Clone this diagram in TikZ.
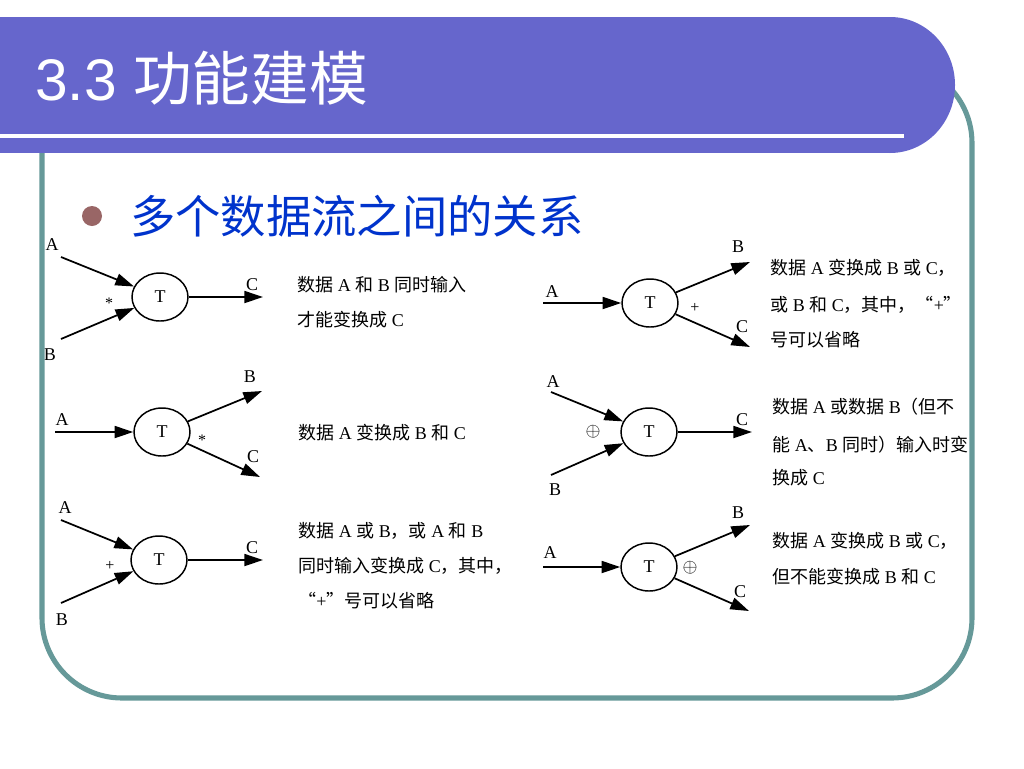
\documentclass[tikz,border=0pt]{standalone}
\usepackage{fontspec}
\setmainfont{Liberation Serif}
\newfontfamily\cjk{Noto Sans CJK SC}
\newfontfamily\titlefont{Liberation Sans}
\usetikzlibrary{arrows.meta,shapes.geometric}
\definecolor{bandpurple}{RGB}{102,102,204}
\definecolor{frameteal}{RGB}{102,153,153}
\definecolor{subblue}{RGB}{0,51,204}
\definecolor{bulletbrown}{RGB}{153,102,102}
\newcommand{\zh}[1]{{\cjk #1}}
\begin{document}
\begin{tikzpicture}[x=0.75pt,y=-0.75pt,
  proc/.style={ellipse, draw, line width=1.1pt, minimum width=42pt, minimum height=36pt, inner sep=0pt, font=\fontsize{13.5}{16}\selectfont},
  flow/.style={line width=1.3pt, -{Triangle[length=14pt,width=9pt]}},
  lbl/.style={inner sep=0pt, font=\fontsize{13.5}{16}\selectfont},
  sym/.style={inner sep=0pt, font=\fontsize{12}{14}\selectfont},
  osym/.style={inner sep=0pt, font=\fontsize{14}{16}\selectfont},
  txt/.style={inner sep=0pt, anchor=west, font=\fontsize{13.5}{16}\selectfont},
]
\useasboundingbox (0,0) rectangle (1024,768);
\fill[white] (0,0) rectangle (1024,768);

% ---------- Diagram 1 ----------
\node[proc] (T1) at (160,297) {T};
\coordinate (a1) at (61,257);
\coordinate (b1) at (61,339);
\coordinate (c1) at (263,297);
\draw[flow] (a1) -- (T1);
\draw[flow] (b1) -- (T1);
\draw[flow] (T1) -- (c1);
\node[lbl] (la1) at (52,245) {A};
\node[lbl] (lb1) at (50,355) {B};
\node[lbl] (lc1) at (252,285) {C};
\node[sym] (s1) at (109,303) {*};
\node[txt] (t1a) at (297,285) {\zh{数据} A \zh{和} B \zh{同时输入}};
\node[txt] (t1b) at (297,320) {\zh{才能变换成} C};

% ---------- Diagram 2 ----------
\node[proc] (T2) at (650,303) {T};
\coordinate (a2) at (543,303);
\coordinate (b2) at (750,262);
\coordinate (c2) at (750,347);
\draw[flow] (a2) -- (T2);
\draw[flow] (T2) -- (b2);
\draw[flow] (T2) -- (c2);
\node[lbl] (la2) at (552,292) {A};
\node[lbl] (lb2) at (738,247) {B};
\node[lbl] (lc2) at (742,327) {C};
\node[sym] (s2) at (695,308) {+};
\node[txt] (t2a) at (770,268) {\zh{数据} A \zh{变换成} B \zh{或} C\zh{，}};
\node[txt] (t2b) at (770,305) {\zh{或} B \zh{和} C\zh{，其中，“}+\zh{”}};
\node[txt] (t2c) at (770,340) {\zh{号可以省略}};

% ---------- Diagram 3 ----------
\node[proc] (T3) at (162,432) {T};
\coordinate (a3) at (55,432);
\coordinate (b3) at (262,391);
\coordinate (c3) at (260,477);
\draw[flow] (a3) -- (T3);
\draw[flow] (T3) -- (b3);
\draw[flow] (T3) -- (c3);
\node[lbl] (la3) at (62,420) {A};
\node[lbl] (lb3) at (250,377) {B};
\node[lbl] (lc3) at (253,457) {C};
\node[sym] (s3) at (202,440) {*};
\node[txt] (t3a) at (298,433) {\zh{数据} A \zh{变换成} B \zh{和} C};

% ---------- Diagram 4 ----------
\node[proc] (T4) at (649,432) {T};
\coordinate (a4) at (551,392);
\coordinate (b4) at (551,475);
\coordinate (c4) at (752,432);
\draw[flow] (a4) -- (T4);
\draw[flow] (b4) -- (T4);
\draw[flow] (T4) -- (c4);
\node[lbl] (la4) at (553,382) {A};
\node[lbl] (lb4) at (555,490) {B};
\node[lbl] (lc4) at (742,420) {C};
\node[osym] (s4) at (593,432) {$\oplus$};
\node[txt] (t4a) at (772,407) {\zh{数据} A \zh{或数据} B\zh{（但不}};
\node[txt] (t4b) at (772,445) {\zh{能} A\zh{、}B \zh{同时）输入时变}};
\node[txt] (t4c) at (772,478) {\zh{换成} C};

% ---------- Diagram 5 ----------
\node[proc] (T5) at (159,560) {T};
\coordinate (a5) at (61,520);
\coordinate (b5) at (61,603);
\coordinate (c5) at (263,560);
\draw[flow] (a5) -- (T5);
\draw[flow] (b5) -- (T5);
\draw[flow] (T5) -- (c5);
\node[lbl] (la5) at (65,508) {A};
\node[lbl] (lb5) at (62,620) {B};
\node[lbl] (lc5) at (252,548) {C};
\node[sym] (s5) at (110,566) {+};
\node[txt] (t5a) at (298,531) {\zh{数据} A \zh{或} B\zh{，或} A \zh{和} B};
\node[txt] (t5b) at (298,566) {\zh{同时输入变换成} C\zh{，其中，}};
\node[txt] (t5c) at (298,601) {\zh{“}+\zh{”号可以省略}};

% ---------- Diagram 6 ----------
\node[proc] (T6) at (649,567) {T};
\coordinate (a6) at (543,567);
\coordinate (b6) at (750,525);
\coordinate (c6) at (749,611);
\draw[flow] (a6) -- (T6);
\draw[flow] (T6) -- (b6);
\draw[flow] (T6) -- (c6);
\node[lbl] (la6) at (550,553) {A};
\node[lbl] (lb6) at (738,513) {B};
\node[lbl] (lc6) at (740,592) {C};
\node[osym] (s6) at (690,568) {$\oplus$};
\node[txt] (t6a) at (772,541) {\zh{数据} A \zh{变换成} B \zh{或} C\zh{，}};
\node[txt] (t6b) at (772,577) {\zh{但不能变换成} B \zh{和} C};

% ---------- Frame ----------
\draw[frameteal, line width=3.8pt, rounded corners=60pt] (42,63) rectangle (972,698);

% ---------- Title band ----------
\fill[bandpurple] (0,17) rectangle (890,153);
\fill[bandpurple] (890,85) ellipse [x radius=48.75pt, y radius=51pt];
\fill[white] (0,133.5) rectangle (904,137.5);
\node[anchor=base west, inner sep=0pt, text=white, font=\fontsize{44}{50}\selectfont] (title) at (35,100) {\titlefont 3.3 \cjk 功能建模};

% ---------- Sub heading ----------
\fill[bulletbrown] (92,216) circle[radius=7.5pt];
\node[anchor=west, inner sep=0pt, text=subblue, font=\cjk\fontsize{34}{40}\selectfont] (sub) at (130,216) {多个数据流之间的关系};
\end{tikzpicture}
\end{document}
